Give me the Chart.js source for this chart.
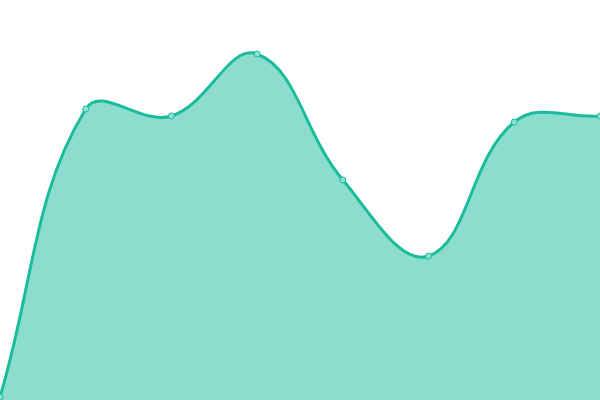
<!DOCTYPE html>
<html>
<head>
<meta charset="utf-8">
<script src="https://cdn.jsdelivr.net/npm/chart.js@4"></script>
<style>
  html, body { margin: 0; padding: 0; background: #fff; }
  #wrap { width: 600px; height: 400px; }
</style>
</head>
<body>
<div id="wrap"><canvas id="chart"></canvas></div>
<script>
const labels = ['1', '2', '3', '4', '5', '6', '7', '8'];
const values = [3, 291, 284, 346, 220, 144, 278, 284];

const ctx = document.getElementById('chart').getContext('2d');
new Chart(ctx, {
  type: 'line',
  data: {
    labels: labels,
    datasets: [{
      data: values,
      fill: true,
      tension: 0.4,
      borderColor: '#1abc9c',
      backgroundColor: 'rgba(26, 188, 156, 0.5)',
      borderWidth: 3,
      pointRadius: 3,
      pointBorderWidth: 1,
      pointBorderColor: '#1abc9c',
      pointBackgroundColor: '#8ee0d0'
    }]
  },
  options: {
    responsive: true,
    maintainAspectRatio: false,
    animation: false,
    layout: { padding: 0, autoPadding: false },
    plugins: { legend: { display: false }, tooltip: { enabled: false } },
    scales: {
      x: { display: false },
      y: { display: false, min: 0, max: 400 }
    }
  }
});
</script>
</body>
</html>
